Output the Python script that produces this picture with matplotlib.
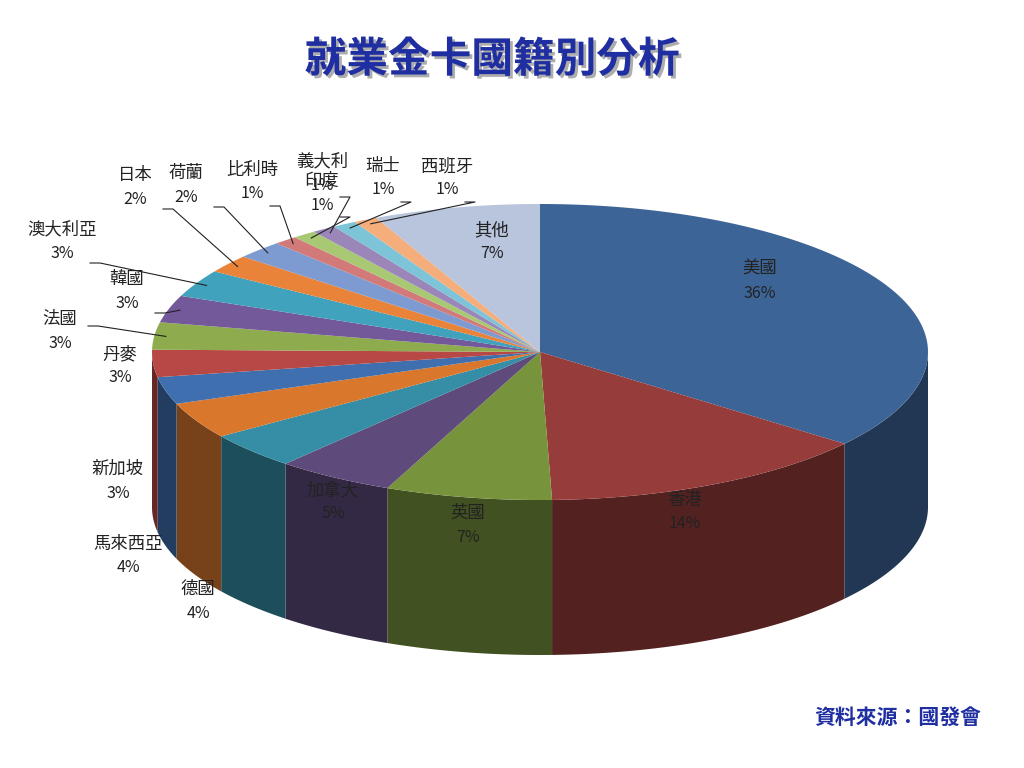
import numpy as np
import matplotlib
matplotlib.use("Agg")
import matplotlib.pyplot as plt
from matplotlib.patches import Polygon
import matplotlib.patheffects as pe

plt.rcParams["font.family"] = "sans-serif"
plt.rcParams["font.sans-serif"] = ["Noto Sans CJK TC", "Noto Sans CJK JP", "Noto Sans CJK SC", "DejaVu Sans"]

countries = ["美國", "香港", "英國", "加拿大", "德國", "馬來西亞", "新加坡", "丹麥", "法國",
             "韓國", "澳大利亞", "日本", "荷蘭", "比利時", "印度", "義大利", "瑞士", "西班牙", "其他"]
shares = [36, 14, 7, 5, 4, 4, 3, 3, 3, 3, 3, 2, 2, 1, 1, 1, 1, 1, 7]
colors = ["#3d6496", "#963c3a", "#77933c", "#5f4b7b", "#358ea5", "#d9772d",
          "#3f6fae", "#b84845", "#8eac4e", "#74599a", "#40a2bd", "#e9833a",
          "#7d9bd0", "#d2797a", "#a9c873", "#9a86b9", "#7dc4d8", "#f5ad7c", "#b8c5dd"]

# label text positions (pixels) and whether a leader line is drawn
label_pos = {
    "美國": (760, 281, False), "香港": (685, 512, False), "英國": (468, 525, False),
    "加拿大": (333, 502, False), "其他": (492, 242, False),
    "德國": (198, 601, False), "馬來西亞": (128, 556, False), "新加坡": (118, 481, False),
    "丹麥": (120, 366, False), "法國": (60, 331, True), "韓國": (127, 291, True),
    "澳大利亞": (62, 241, True), "日本": (135, 187, True), "荷蘭": (186, 185, True),
    "比利時": (252, 182, True), "印度": (322, 193, True), "義大利": (322, 173, True),
    "瑞士": (383, 178, True), "西班牙": (447, 178, True),
}

cx, cy, rx, ry, depth = 540, 352, 388, 148, 155

fig = plt.figure(figsize=(10.24, 7.68), dpi=100)
ax = fig.add_axes([0, 0, 1, 1])
ax.set_xlim(0, 1024)
ax.set_ylim(768, 0)
ax.axis("off")


def rim(t, dy=0.0):
    return cx + rx * np.cos(t), cy + ry * np.sin(t) + dy


def darker(c, f):
    rgb = np.array(matplotlib.colors.to_rgb(c))
    return tuple(rgb * f)


fracs = np.array(shares) / sum(shares)
bounds = -np.pi / 2 + 2 * np.pi * np.concatenate([[0], np.cumsum(fracs)])

# side walls (front half only)
for i, c in enumerate(colors):
    a0, a1 = bounds[i], bounds[i + 1]
    for shift in (0, 2 * np.pi):
        l2, h2 = max(a0, shift), min(a1, np.pi + shift)
        if h2 > l2:
            t = np.linspace(l2, h2, 80)
            xt, yt = rim(t)
            xb, yb = rim(t[::-1], depth)
            ax.add_patch(Polygon(np.column_stack([np.r_[xt, xb], np.r_[yt, yb]]),
                                 facecolor=darker(c, 0.55), edgecolor="none"))

# top faces
for i, c in enumerate(colors):
    t = np.linspace(bounds[i], bounds[i + 1], max(int(fracs[i] * 400), 4))
    xs, ys = rim(t)
    ax.add_patch(Polygon(np.column_stack([np.r_[cx, xs], np.r_[cy, ys]]),
                         facecolor=c, edgecolor="none"))

# labels
for i, name in enumerate(countries):
    x, y, leader = label_pos[name]
    ax.text(x, y - 12, name, ha="center", va="center", fontsize=12.5, color="#222222")
    ax.text(x, y + 12, f"{shares[i]}%", ha="center", va="center", fontsize=11.5, color="#222222")
    if leader:
        mid = (bounds[i] + bounds[i + 1]) / 2
        px, py = rim(mid)
        px, py = cx + (px - cx) * 0.97, cy + (py - cy) * 0.97
        sx, sy = (x + 28, y + 22) if x < 200 else (x + 18, y + 24)
        if name == "法國":
            sx, sy = x + 28, y - 5
        ax.plot([sx, sx + 10, px], [sy, sy, py], color="#222222", lw=0.8)

ax.text(492, 60, "就業金卡國籍別分析", ha="center", va="center", fontsize=30,
        fontweight="bold", color="#1f2ea0",
        path_effects=[pe.withSimplePatchShadow(offset=(2, -2), shadow_rgbFace="#999999", alpha=0.8)])
ax.text(898, 717, "資料來源：國發會", ha="center", va="center", fontsize=15,
        fontweight="bold", color="#1f2ea0")

fig.savefig("out.png", dpi=100, facecolor="white")
